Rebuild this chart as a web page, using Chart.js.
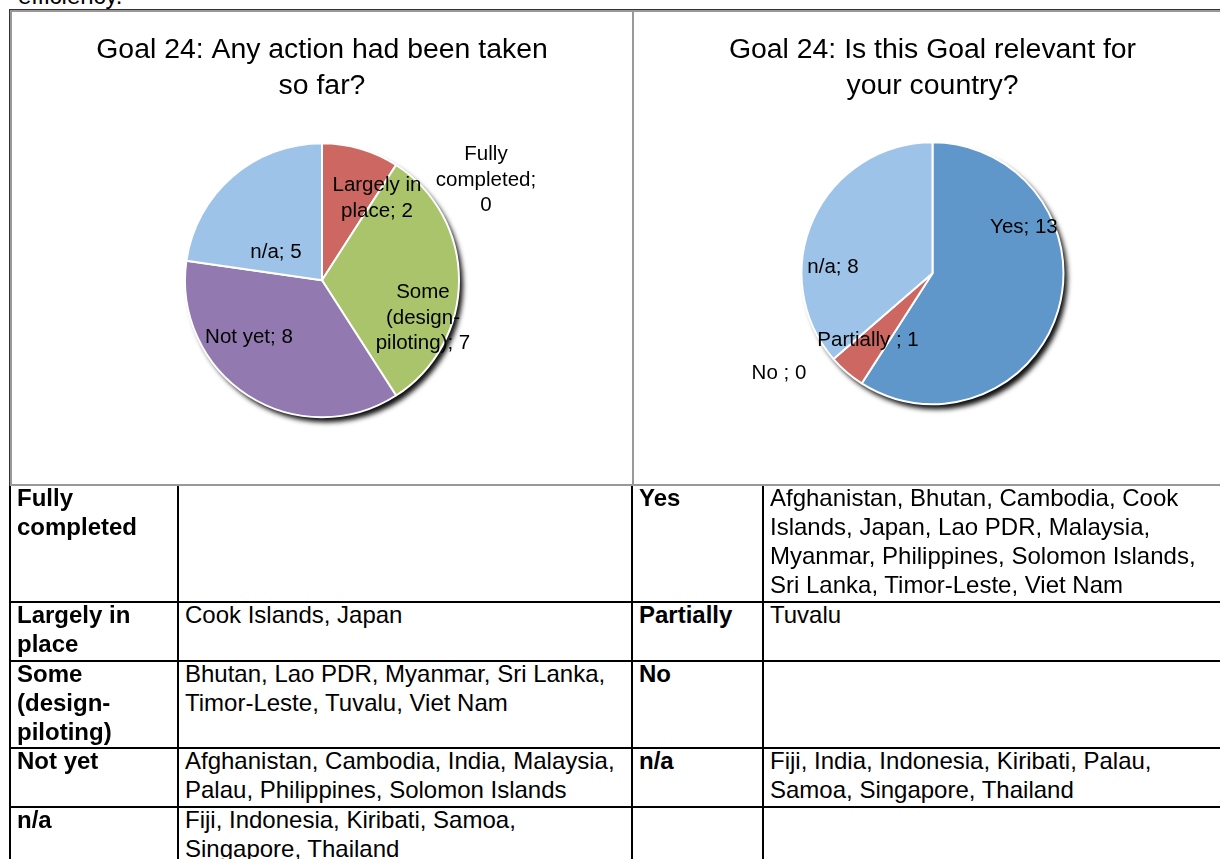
<!DOCTYPE html>
<html>
<head>
<meta charset="utf-8">
<script src="https://cdn.jsdelivr.net/npm/chart.js@4.4.0/dist/chart.umd.min.js"></script>
<style>
html,body{margin:0;padding:0;background:#fff;}
#page{position:relative;width:1220px;height:859px;overflow:hidden;font-family:"Liberation Sans",Arial,sans-serif;color:#000;}
#lead{position:absolute;left:18px;top:-16px;font-size:24px;line-height:24px;white-space:nowrap;}
.frame{position:absolute;left:10px;top:10px;width:1240px;height:476px;box-sizing:border-box;border:2px solid #999;}
.dark{position:absolute;background:#333;}
.gray{position:absolute;background:#999;}
.cv{position:absolute;}
.ln{position:absolute;background:#000;}
.cell{position:absolute;font-size:24px;line-height:29px;}
.cell.h{font-weight:bold;}
</style>
</head>
<body>
<div id="page">
  <div id="lead">efficiency.</div>
  <div class="frame"></div>
  <div class="dark" style="left:9px;top:9px;width:1220px;height:1px;"></div>
  <div class="dark" style="left:9px;top:9px;width:1px;height:477px;"></div>
  <div class="gray" style="left:632px;top:10px;width:2px;height:476px;"></div>
  <div class="cv" style="left:12px;top:12px;width:620px;height:472px;"><canvas id="chartAction"></canvas></div>
  <div class="cv" style="left:634px;top:12px;width:597px;height:472px;"><canvas id="chartRelevance"></canvas></div>
  <div id="table"></div>
</div>
<script>
// ---------- data ----------
const actionTitle = ['Goal 24: Any action had been taken', 'so far?'];
const actionCategories = ['Fully completed', 'Largely in place', 'Some (design-piloting)', 'Not yet', 'n/a'];
const actionValues = [0, 2, 7, 8, 5];
const actionColors = ['#4F81BD', '#CD6761', '#A9C46B', '#9279B0', '#9EC3E9'];

const relevanceTitle = ['Goal 24: Is this Goal relevant for', 'your country?'];
const relevanceCategories = ['Yes', 'Partially ', 'No ', 'n/a'];
const relevanceValues = [13, 1, 0, 8];
const relevanceColors = ['#6097CA', '#CD6761', '#A9C46B', '#9EC3E9'];

const actionTableRows = [
  ['Fully completed', ''],
  ['Largely in place', 'Cook Islands, Japan'],
  ['Some (design-piloting)', 'Bhutan, Lao PDR, Myanmar, Sri Lanka, Timor-Leste, Tuvalu, Viet Nam'],
  ['Not yet', 'Afghanistan, Cambodia, India, Malaysia, Palau, Philippines, Solomon Islands'],
  ['n/a', 'Fiji, Indonesia, Kiribati, Samoa, Singapore, Thailand']
];
const relevanceTableRows = [
  ['Yes', 'Afghanistan, Bhutan, Cambodia, Cook Islands, Japan, Lao PDR, Malaysia, Myanmar, Philippines, Solomon Islands, Sri Lanka, Timor-Leste, Viet Nam'],
  ['Partially', 'Tuvalu'],
  ['No', ''],
  ['n/a', 'Fiji, India, Indonesia, Kiribati, Palau, Samoa, Singapore, Thailand'],
  ['', '']
];

// ---------- table ----------
(function buildTable(){
  const t = document.getElementById('table');
  const rowTops = [486, 601, 660, 747, 806];
  const colLines = [9, 177, 631, 762];
  const colWidths = [154, 438, 118, 452];
  let html = '';
  colLines.forEach(x => { html += `<div class="ln" style="left:${x}px;top:486px;width:2px;height:400px;"></div>`; });
  rowTops.slice(1).forEach(y => { html += `<div class="ln" style="left:9px;top:${y}px;width:1220px;height:2px;"></div>`; });
  rowTops.forEach((y, r) => {
    const top = r === 0 ? 483 : y - 1;
    const cells = [actionTableRows[r][0], actionTableRows[r][1], relevanceTableRows[r][0], relevanceTableRows[r][1]];
    cells.forEach((txt, c) => {
      const cls = (c % 2 === 0) ? 'cell h' : 'cell';
      html += `<div class="${cls}" style="left:${colLines[c] + 8}px;top:${top}px;width:${colWidths[c]}px;">${txt}</div>`;
    });
  });
  t.innerHTML = html;
})();

// ---------- plugins ----------
const pieShadow = {
  id: 'pieShadow',
  beforeDatasetsDraw(chart) {
    const arc = chart.getDatasetMeta(0).data[0];
    if (!arc) return;
    const ctx = chart.ctx;
    ctx.save();
    ctx.shadowColor = 'rgba(0,0,0,0.95)';
    ctx.shadowBlur = 5;
    ctx.shadowOffsetX = 4;
    ctx.shadowOffsetY = 5;
    ctx.beginPath();
    ctx.arc(arc.x, arc.y, arc.outerRadius, 0, Math.PI * 2);
    ctx.fillStyle = '#ffffff';
    ctx.fill();
    ctx.restore();
  }
};

function wrapText(ctx, text, maxWidth) {
  const tokens = [];
  text.split(' ').forEach(w => {
    const parts = w.split(/(?<=-)/);
    parts.forEach((p, i) => tokens.push({t: p, sp: i === 0}));
  });
  const lines = [];
  let cur = '';
  tokens.forEach(tok => {
    if (tok.t === '') return;
    const candidate = cur === '' ? tok.t : cur + (tok.sp ? ' ' : '') + tok.t;
    if (cur !== '' && ctx.measureText(candidate).width > maxWidth) {
      lines.push(cur);
      cur = tok.t;
    } else {
      cur = candidate;
    }
  });
  if (cur !== '') lines.push(cur);
  return lines;
}

const sliceLabels = {
  id: 'sliceLabels',
  afterDatasetsDraw(chart, args, opts) {
    const meta = chart.getDatasetMeta(0);
    const ctx = chart.ctx;
    const labels = chart.data.labels;
    const values = chart.data.datasets[0].data;
    ctx.save();
    ctx.font = `${opts.size}px "Liberation Sans", Arial, sans-serif`;
    ctx.fillStyle = '#000';
    ctx.textAlign = 'center';
    ctx.textBaseline = 'middle';
    meta.data.forEach((arc, i) => {
      const off = opts.offsets[i];
      const x = arc.x + off[0] * arc.outerRadius;
      const y = arc.y + off[1] * arc.outerRadius;
      const lines = wrapText(ctx, `${labels[i]}; ${values[i]}`, opts.maxWidth);
      const start = y - (lines.length - 1) * opts.lineHeight / 2;
      lines.forEach((ln, k) => ctx.fillText(ln, x, start + k * opts.lineHeight));
    });
    ctx.restore();
  }
};

function makePie(id, title, labels, values, colors, radius, padBottom, labelOpts) {
  return new Chart(document.getElementById(id), {
    type: 'pie',
    data: {
      labels: labels,
      datasets: [{
        data: values,
        backgroundColor: colors,
        borderColor: '#ffffff',
        borderWidth: 2,
        radius: radius
      }]
    },
    options: {
      responsive: true,
      maintainAspectRatio: false,
      animation: false,
      layout: { padding: { top: 0, bottom: padBottom, left: 0, right: 0 } },
      plugins: {
        legend: { display: false },
        tooltip: { enabled: false },
        title: {
          display: true,
          text: title,
          color: '#000',
          font: { family: '"Liberation Sans", Arial, sans-serif', size: 28.4, weight: 'normal', lineHeight: 1.25 },
          padding: { top: 20.5, bottom: 9.5 }
        },
        sliceLabels: labelOpts
      }
    },
    plugins: [pieShadow, sliceLabels]
  });
}

makePie('chartAction', actionTitle, actionCategories, actionValues, actionColors, 137, 36.5, {
  size: 20.5, lineHeight: 25.5, maxWidth: 105,
  offsets: [[1.197, -0.730], [0.401, -0.599], [0.737, 0.277], [-0.533, 0.416], [-0.336, -0.204]]
});
makePie('chartRelevance', relevanceTitle, relevanceCategories, relevanceValues, relevanceColors, 131, 50.5, {
  size: 20.5, lineHeight: 25.5, maxWidth: 160,
  offsets: [[0.698, -0.351], [-0.492, 0.511], [-1.172, 0.763], [-0.760, -0.046]]
});
</script>
</body>
</html>
